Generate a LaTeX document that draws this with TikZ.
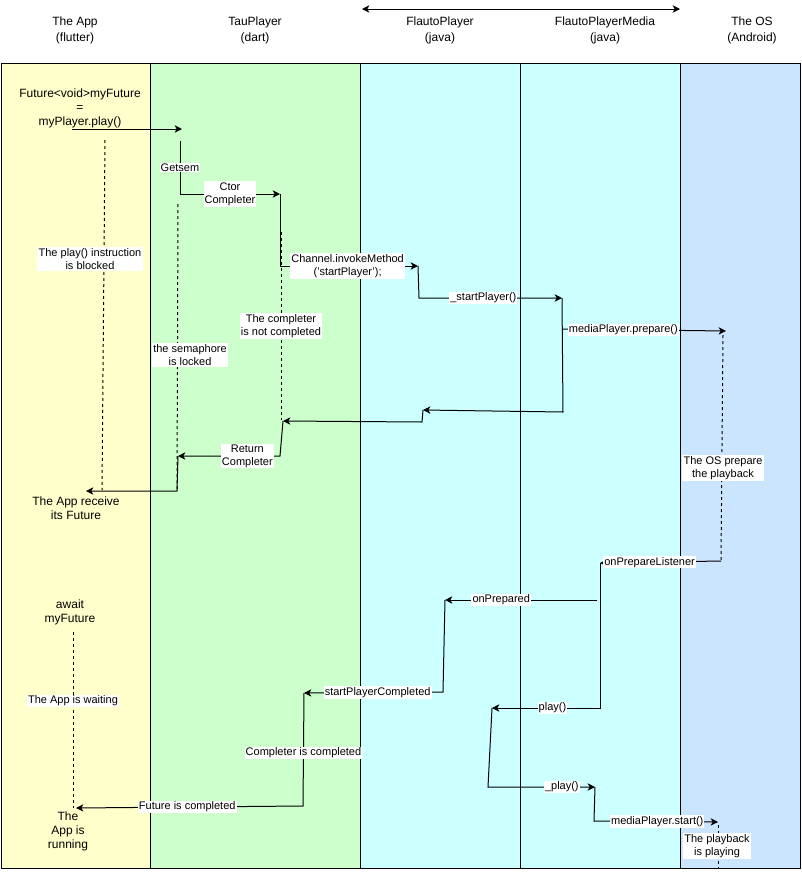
\documentclass[tikz,border=0pt]{standalone}
\usepackage{fontspec}
\setmainfont{Liberation Sans}
\usepackage{tikz}
\usetikzlibrary{arrows.meta}
\definecolor{laneapp}{RGB}{255,255,204}
\definecolor{lanetau}{RGB}{204,255,204}
\definecolor{lanejava}{RGB}{204,255,255}
\definecolor{laneos}{RGB}{204,229,255}
\tikzset{
  lane/.style={draw=black, line width=0.75pt},
  hdr/.style={align=center, inner sep=1pt, font=\fontsize{9}{12}\selectfont},
  txt/.style={align=center, inner sep=1pt, font=\fontsize{9}{10.5}\selectfont},
  note/.style={fill=white, align=center, inner sep=1pt, font=\fontsize{8.25}{9.75}\selectfont},
  elbl/.style={fill=white, align=center, inner sep=0.8pt, font=\fontsize{8.25}{9.75}\selectfont},
  flow/.style={-{Stealth[length=5.5pt, width=5.5pt, inset=1.5pt]}, line width=0.75pt, draw=black},
  both/.style={{Stealth[length=5.5pt, width=5.5pt, inset=1.5pt]}-{Stealth[length=5.5pt, width=5.5pt, inset=1.5pt]}, line width=0.75pt},
  life/.style={dash pattern=on 2.25pt off 2.25pt, line width=0.75pt},
}
\begin{document}
\begin{tikzpicture}[x=0.75pt, y=-0.75pt]
  \useasboundingbox (0,0) rectangle (801,879);
  % lanes
  \draw[lane, fill=laneapp] (1,63) rectangle (150,868);
  \draw[lane, fill=lanetau] (150,63) rectangle (360,868);
  \draw[lane, fill=lanejava] (360,63) rectangle (520,868);
  \draw[lane, fill=lanejava] (520,63) rectangle (680,868);
  \draw[lane, fill=laneos] (680,63) rectangle (800,868);
  % headers
  \node[hdr] (happ) at (75,30) {The App\\(flutter)};
  \node[hdr] (htau) at (255,30) {TauPlayer\\(dart)};
  \node[hdr] (hfl) at (440,30) {FlautoPlayer\\(java)};
  \node[hdr] (hflm) at (605,30) {FlautoPlayerMedia\\(java)};
  \node[hdr] (hos) at (752,30) {The OS\\(Android)};
  \coordinate (javaL) at (362,9);
  \coordinate (javaR) at (680,9);
  \draw[both] (javaL) -- (javaR);

  % first call: play()
  \node[txt] (call) at (80,108) {Future<void>myFuture\\=\\myPlayer.play()};
  \coordinate (a1) at (72,129);
  \coordinate (t1) at (182,129);
  \coordinate (t2) at (180,141);
  \coordinate (t3) at (180,194);
  \coordinate (t4) at (280,194);
  \coordinate (t5) at (280,266);
  \coordinate (f1) at (418,266);
  \coordinate (f2) at (419,298);
  \coordinate (m1) at (562,298);
  \coordinate (m2) at (563,329);
  \coordinate (m3) at (563,412);
  \coordinate (o1) at (726,331);
  \coordinate (f3) at (423,410);
  \coordinate (f4) at (422,422);
  \coordinate (t6) at (283,421);
  \coordinate (t7) at (280,456);
  \coordinate (t8) at (178,456);
  \coordinate (t9) at (177,491);
  \coordinate (a2) at (86,491);
  \draw[flow] (a1) -- (t1);
  \draw[flow] (t2) -- node[elbl] (gs) {Getsem} (t3) -- node[elbl] (ctor) {Ctor\\Completer} (t4);
  \draw[flow] (t4) -- (t5) -- node[elbl, pos=0.49] (inv) {Channel.invokeMethod\\('startPlayer');} (f1);
  \draw[flow] (f1) -- (f2) -- node[elbl, pos=0.45] (sp) {\_startPlayer()} (m1);
  \draw[flow] (m2) -- node[elbl, pos=0.37] (prep) {mediaPlayer.prepare()} (o1);
  \draw[flow] (m1) -- (m3) -- (f3);
  \draw[flow] (f3) -- (f4) -- (t6);
  \draw[flow] (t6) -- (t7) -- node[elbl, pos=0.32] (ret) {Return\\Completer} (t8);
  \draw[flow] (t8) -- (t9) -- (a2);
  \node[txt] (recv) at (76,508) {The App receive\\its Future};

  % lifelines
  \draw[life] (105,140) -- (102,490);
  \node[note] (blk) at (90,259) {The play() instruction\\is blocked};
  \draw[life] (178,204) -- (177,491);
  \node[note] (sem) at (190,355) {the semaphore\\is locked};
  \draw[life] (281,232) -- (281,420);
  \node[note] (ncomp) at (281,326) {The completer\\is not completed};
  \draw[life] (723,335) -- (721,561);
  \node[note] (osprep) at (723,468) {The OS prepare\\the playback};

  % second part: await
  \node[txt] (await) at (70,612) {await\\myFuture};
  \draw[life] (73,632) -- (73,808);
  \node[note] (wait) at (73,701) {The App is waiting};
  \coordinate (o2) at (721,561);
  \coordinate (m4) at (600,563);
  \coordinate (m5) at (600,708);
  \coordinate (f5) at (492,708);
  \coordinate (m6) at (597,600);
  \coordinate (f6) at (445,600);
  \coordinate (f7) at (443,692);
  \coordinate (t10) at (304,693);
  \coordinate (t11) at (303,806);
  \coordinate (a3) at (76,808);
  \coordinate (f8) at (488,787);
  \coordinate (m7) at (595,787);
  \coordinate (m8) at (594,821);
  \coordinate (o3) at (718,822);
  \draw[flow] (o2) -- node[elbl, pos=0.59] (opl) {onPrepareListener} (m4);
  \draw[flow] (m4) -- (m5) -- node[elbl, pos=0.44] (pl) {play()} (f5);
  \draw[flow] (m6) -- node[elbl, pos=0.63] (onp) {onPrepared} (f6);
  \draw[flow] (f6) -- (f7) -- node[elbl, pos=0.47] (spc) {startPlayerCompleted} (t10);
  \draw[flow] (t10) -- node[elbl, pos=0.53] (cc) {Completer is completed} (t11)
    -- node[elbl, pos=0.51] (fc) {Future is completed} (a3);
  \draw[flow] (f5) -- (f8) -- node[elbl, pos=0.69] (upl) {\_play()} (m7);
  \draw[flow] (m7) -- (m8) -- node[elbl, pos=0.51] (start) {mediaPlayer.start()} (o3);
  \node[txt] (run) at (68,831) {The\\App is\\running};
  \draw[life] (718,825) -- (718,868);
  \node[note] (playing) at (717,846) {The playback\\is playing};
\end{tikzpicture}
\end{document}
